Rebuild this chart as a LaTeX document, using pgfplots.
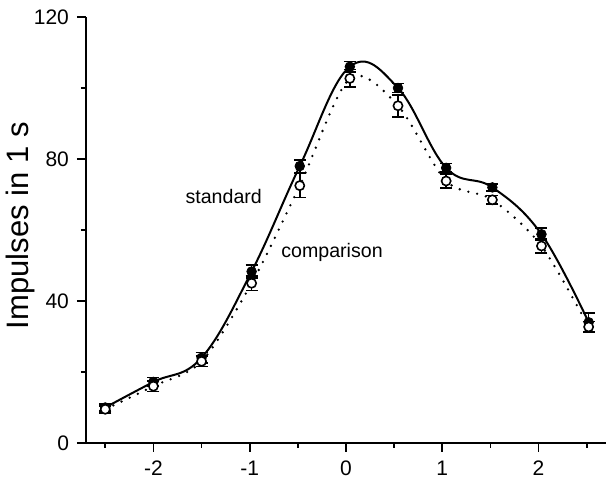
\documentclass[border=0pt]{standalone}
\usepackage{pgfplots}
\pgfplotsset{compat=1.18}
\usepackage{fontspec}
\setmainfont{Liberation Sans}
\begin{document}
\begin{tikzpicture}
\path[use as bounding box] (-43pt,-19pt) rectangle (260pt,221.5pt);
\begin{axis}[
  at={(0,0)}, anchor=south west,
  scale only axis, width=260pt, height=213pt,
  xmin=-2.7, xmax=2.7, ymin=0, ymax=120,
  axis lines=left, axis line style={-, line width=1pt},
  tick align=outside,
  xtick={-2,-1,0,1,2}, minor xtick={-2.5,-1.5,-0.5,0.5,1.5,2.5},
  ytick={0,40,80,120}, minor ytick={20,60,100},
  major tick length=4.5pt, minor tick length=2.5pt,
  tick style={line width=0.8pt, black},
  /pgf/number format/assume math mode=true,
  ticklabel style={font=\fontsize{10.5}{12}\selectfont},
  xticklabel style={yshift=-1pt},
  yticklabel style={xshift=-0.5pt},
  ylabel={Impulses in 1 s},
  ylabel style={font=\fontsize{15.5}{17}\selectfont, at={(axis description cs:0,0.51)}, anchor=center, yshift=33pt},
  clip=false,
]
% standard (filled)
\addplot[black, line width=1pt, smooth, tension=0.65] coordinates {
(-2.5,10) (-2,17.2) (-1.5,24) (-0.98,48.3) (-0.48,78) (0.04,106) (0.54,100) (1.04,77.5) (1.52,72) (2.03,58.8) (2.52,34)};
% comparison (open)
\addplot[black, line width=1.3pt, line cap=round, dash pattern=on 0pt off 4.5pt, smooth, tension=0.5] coordinates {
(-2.5,9.5) (-2,16) (-1.5,23) (-0.98,45) (-0.48,72.5) (0.04,102.7) (0.54,95) (1.04,73.8) (1.52,68.5) (2.03,55.5) (2.52,32.7)};
\addplot[only marks, black, mark=*, mark size=2.4pt,
  error bars/.cd, y dir=both, y explicit, error mark options={rotate=90, mark size=3pt, line width=0.8pt}, error bar style={line width=0.8pt}]
  coordinates {
(-2.5,10) +- (0,1) (-2,17.2) +- (0,1.2) (-1.5,24) +- (0,1.5) (-0.98,48.3) +- (0,1.8) (-0.48,78) +- (0,1.8) (0.04,106) +- (0,1.5) (0.54,100) +- (0,1.3) (1.04,77.5) +- (0,1.2) (1.52,72) +- (0,1) (2.03,58.8) +- (0,1.8) (2.52,34) +- (0,2.6)};
\addplot[only marks, black, mark=*, mark options={fill=white, line width=0.8pt}, mark size=2.3pt,
  error bars/.cd, y dir=both, y explicit, error mark options={rotate=90, mark size=3pt, line width=0.8pt}, error bar style={line width=0.8pt}]
  coordinates {
(-2.5,9.5) +- (0,1) (-2,16) +- (0,1.5) (-1.5,23) +- (0,1.5) (-0.98,45) +- (0,2) (-0.48,72.5) +- (0,3.4) (0.04,102.7) +- (0,2.5) (0.54,95) +- (0,3.1) (1.04,73.8) +- (0,2) (1.52,68.5) +- (0,1.2) (2.03,55.5) +- (0,1.9) (2.52,32.7) +- (0,1.5)};
\node[font=\fontsize{9.8}{11}\selectfont] at (axis cs:-1.27,69.3) {standard};
\node[font=\fontsize{9.8}{11}\selectfont] at (axis cs:-0.145,53.8) {comparison};
\end{axis}
\end{tikzpicture}
\end{document}
